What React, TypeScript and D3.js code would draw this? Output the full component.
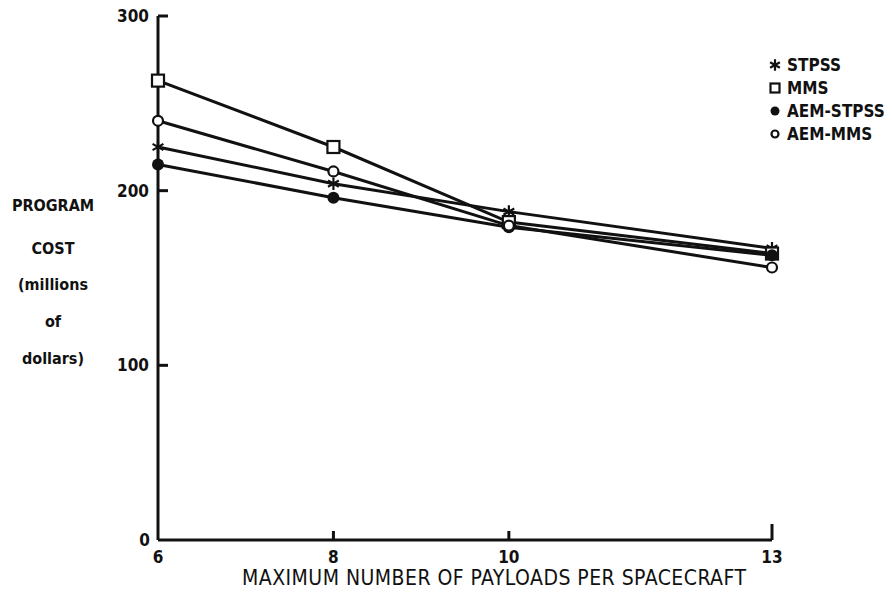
import React, { useEffect, useRef } from 'react';
import * as d3 from 'd3';

// data (millions of dollars)
const payloads = [6, 8, 10, 13];
const stpss = [225, 204, 188, 167];
const mms = [263, 225, 182, 164];
const aemStpss = [215, 196, 179, 163];
const aemMms = [240, 211, 180, 156];

const seriesNames = ['STPSS', 'MMS', 'AEM-STPSS', 'AEM-MMS'];
const yTicks = [0, 100, 200, 300];
const xTicks = [6, 8, 10, 13];
const yLabelLines = ['PROGRAM', 'COST', '(millions', 'of', 'dollars)'];
const xTitle = 'MAXIMUM NUMBER OF PAYLOADS PER SPACECRAFT';

const FONT = "'Liberation Sans Narrow', 'DejaVu Sans Condensed', 'Roboto Condensed', sans-serif";
const INK = '#111';

const App = () => {
  const svgRef = useRef<SVGSVGElement>(null);

  useEffect(() => {
    const svg = d3.select(svgRef.current);
    svg.selectAll('*').remove();

    const width = 892, height = 592;
    const x = d3.scaleLinear().domain([6, 13]).range([158, 772]);
    const y = d3.scaleLinear().domain([0, 300]).range([540, 16]);

    svg.attr('width', width).attr('height', height);
    svg.append('rect').attr('width', width).attr('height', height).attr('fill', '#fff');

    // axes drawn by hand so they look like the original drafting
    const axis = svg.append('g').attr('stroke', INK).attr('stroke-width', 3).attr('fill', 'none');
    axis.append('line').attr('x1', x(6)).attr('x2', x(6)).attr('y1', y(300)).attr('y2', y(0));
    axis.append('line').attr('x1', x(6)).attr('x2', x(13)).attr('y1', y(0)).attr('y2', y(0));

    yTicks.filter(d => d > 0).forEach(d => {
      axis.append('line')
        .attr('x1', x(6)).attr('x2', x(6) + 10)
        .attr('y1', y(d)).attr('y2', y(d));
    });
    xTicks.filter(d => d > 6).forEach(d => {
      axis.append('line')
        .attr('x1', x(d)).attr('x2', x(d))
        .attr('y1', y(0)).attr('y2', y(0) - (d === 13 ? 16 : 9));
    });

    // tick labels
    svg.append('g').selectAll('text')
      .data(yTicks)
      .enter().append('text')
      .attr('x', d => d === 0 ? x(6) - 8 : x(6) - 9)
      .attr('y', d => y(d))
      .attr('dy', '0.35em')
      .attr('text-anchor', 'end')
      .style('font-family', FONT)
      .style('font-weight', 'bold')
      .style('font-size', '17px')
      .attr('fill', INK)
      .text(d => d);

    svg.append('g').selectAll('text')
      .data(xTicks)
      .enter().append('text')
      .attr('x', d => x(d))
      .attr('y', y(0) + 23)
      .attr('text-anchor', 'middle')
      .style('font-family', FONT)
      .style('font-weight', 'bold')
      .style('font-size', '17px')
      .attr('fill', INK)
      .text(d => d);

    // axis titles
    svg.append('text')
      .attr('x', 242)
      .attr('y', 585)
      .attr('textLength', 504)
      .attr('lengthAdjust', 'spacing')
      .style('font-family', FONT)
      .style('font-size', '21px')
      .attr('fill', INK)
      .text(xTitle);

    svg.append('g').selectAll('text')
      .data(yLabelLines)
      .enter().append('text')
      .attr('x', 53)
      .attr('y', (d, i) => i === 0 ? 205 : 248 + (i - 1) * 36.7)
      .attr('dy', '0.35em')
      .attr('text-anchor', 'middle')
      .style('font-family', FONT)
      .style('font-weight', 'bold')
      .style('font-size', '16px')
      .attr('fill', INK)
      .text(d => d);

    const allSeries = [stpss, mms, aemStpss, aemMms];

    // the lines
    const line = d3.line<number>()
      .x((d, i) => x(payloads[i]))
      .y(d => y(d));

    svg.append('g').selectAll('path')
      .data(allSeries)
      .enter().append('path')
      .attr('fill', 'none')
      .attr('stroke', INK)
      .attr('stroke-width', 3)
      .attr('d', d => line(d));

    // marker drawing, one shape per series
    const drawMarker = (g, kind, cx, cy, s) => {
      if (kind === 0) {
        const a = d3.symbol().type(d3.symbolAsterisk).size(s * s * 1.1);
        g.append('path').attr('transform', `translate(${cx},${cy})`)
          .attr('d', a()).attr('stroke', INK).attr('stroke-width', 2.2).attr('fill', 'none');
      } else if (kind === 1) {
        g.append('rect').attr('x', cx - s / 2).attr('y', cy - s / 2)
          .attr('width', s).attr('height', s)
          .attr('fill', '#fff').attr('stroke', INK).attr('stroke-width', 2.2);
      } else if (kind === 2) {
        g.append('circle').attr('cx', cx).attr('cy', cy).attr('r', s / 2)
          .attr('fill', INK);
      } else {
        g.append('circle').attr('cx', cx).attr('cy', cy).attr('r', s / 2 - 1)
          .attr('fill', '#fff').attr('stroke', INK).attr('stroke-width', 2.2);
      }
    };

    const markers = svg.append('g');
    allSeries.forEach((vals, k) => {
      vals.forEach((v, i) => drawMarker(markers, k, x(payloads[i]), y(v), k === 0 ? 10 : 12));
    });

    // legend
    const legend = svg.append('g');
    seriesNames.forEach((name, k) => {
      const ly = 65 + k * 23;
      drawMarker(legend, k, 775, ly, 9);
      legend.append('text')
        .attr('x', 787)
        .attr('y', ly)
        .attr('dy', '0.35em')
        .style('font-family', FONT)
        .style('font-weight', 'bold')
        .style('font-size', '17px')
        .attr('fill', INK)
        .text(name);
    });
  }, []);

  return (
    <svg ref={svgRef} style={{ position: 'absolute', left: 0, top: 0, background: '#fff' }}></svg>
  );
};

export default App;
